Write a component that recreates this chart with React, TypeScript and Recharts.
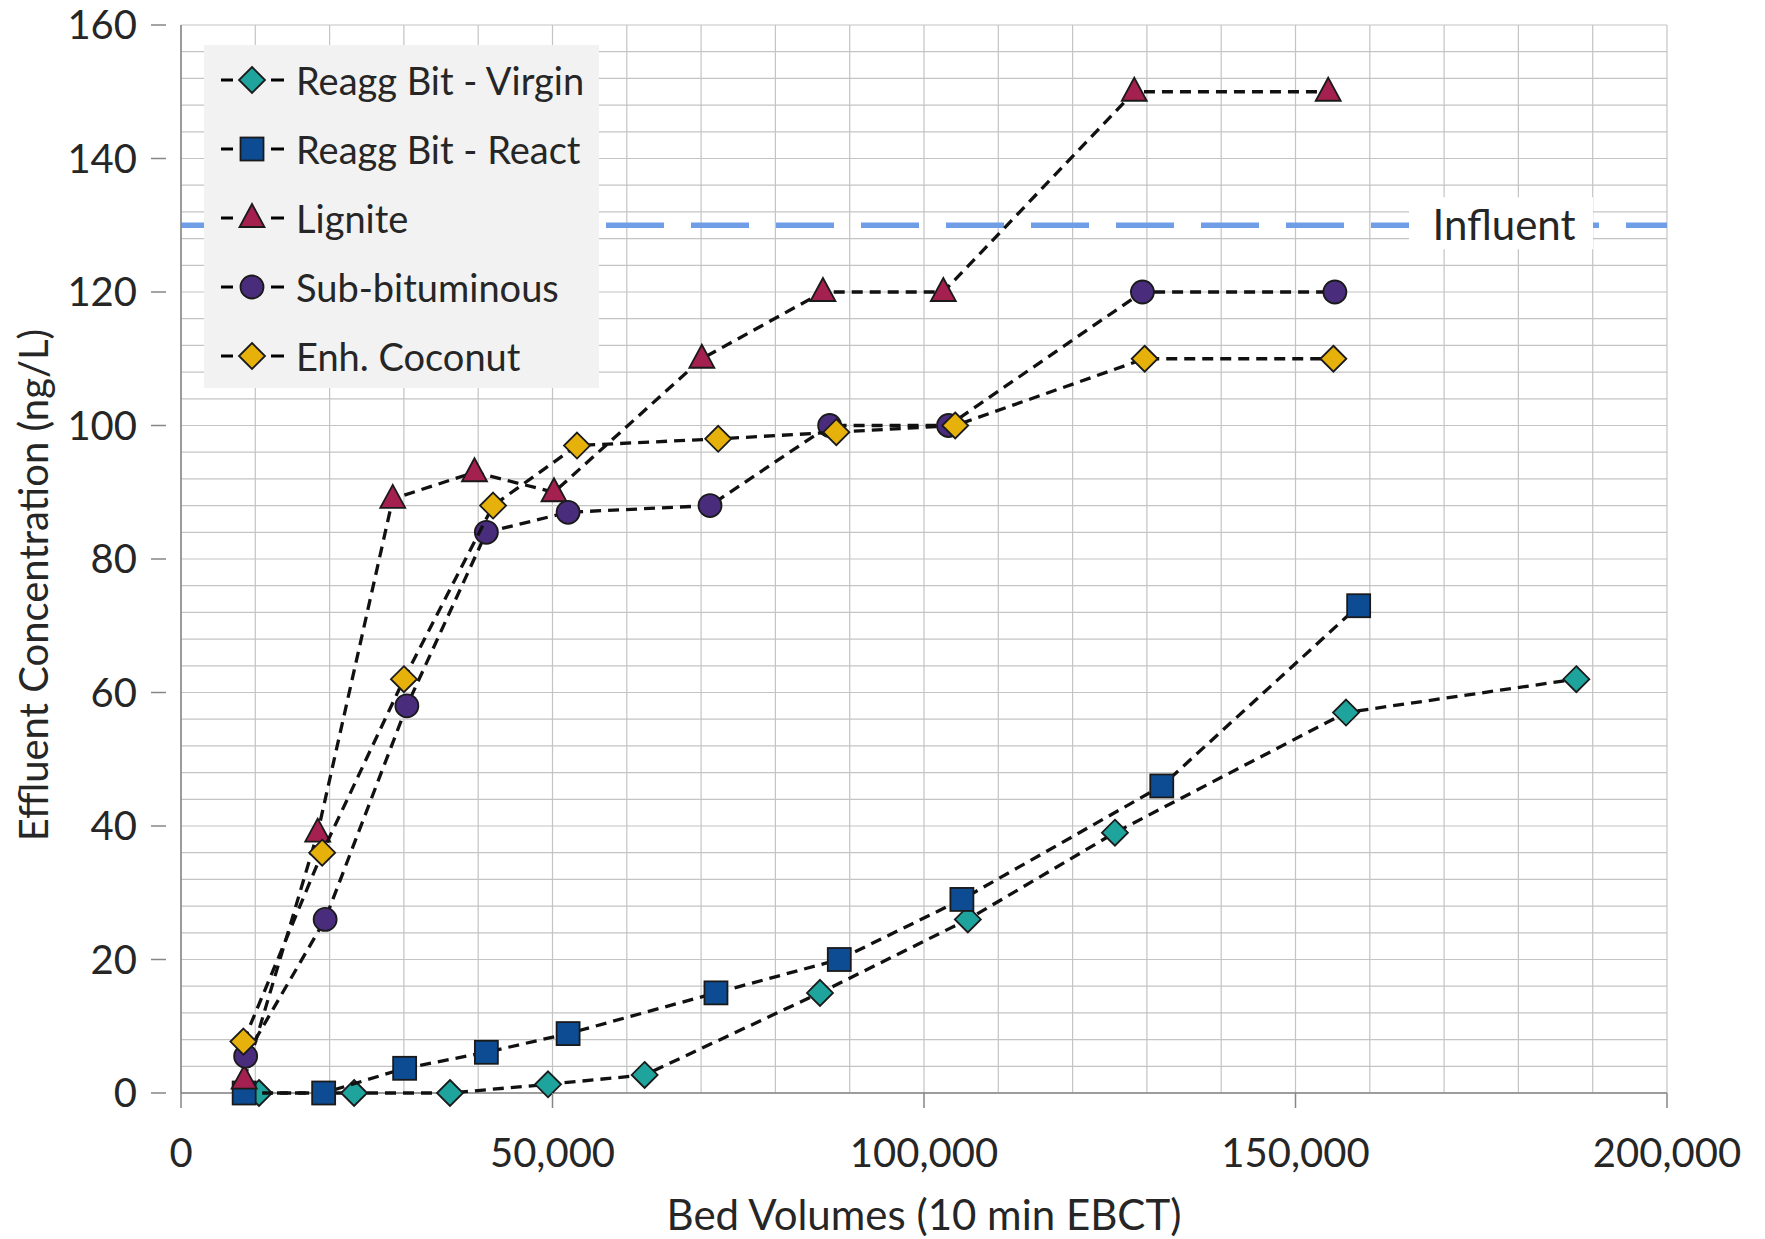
import { ScatterChart, Scatter, XAxis, YAxis, CartesianGrid, ReferenceLine } from 'recharts';

const xGridTicks = [0, 10000, 20000, 30000, 40000, 50000, 60000, 70000, 80000, 90000, 100000,
  110000, 120000, 130000, 140000, 150000, 160000, 170000, 180000, 190000, 200000];
const yGridTicks = [0, 4, 8, 12, 16, 20, 24, 28, 32, 36, 40, 44, 48, 52, 56, 60, 64, 68, 72, 76, 80,
  84, 88, 92, 96, 100, 104, 108, 112, 116, 120, 124, 128, 132, 136, 140, 144, 148, 152, 156, 160];

const virginX = [10500, 23300, 36200, 49400, 62400, 86000, 105900, 125700, 156800, 187800];
const virginY = [0, 0, 0, 1.3, 2.7, 15, 26, 39, 57, 62];
const reactX = [8500, 19200, 30100, 41100, 52100, 72000, 88600, 105100, 132000, 158500];
const reactY = [0, 0, 3.7, 6.1, 8.9, 15, 20, 29, 46, 73];
const ligniteX = [8500, 18400, 28500, 39500, 50200, 70100, 86400, 102600, 128300, 154400];
const ligniteY = [2, 39, 89, 93, 90, 110, 120, 120, 150, 150];
const subbitX = [8700, 19400, 30400, 41100, 52100, 71200, 87300, 103300, 129400, 155300];
const subbitY = [5.5, 26, 58, 84, 87, 88, 100, 100, 120, 120];
const coconutX = [8400, 19000, 30000, 42000, 53300, 72300, 88200, 104200, 129700, 155100];
const coconutY = [7.7, 36, 62, 88, 97, 98, 99, 100, 110, 110];

const influent = 130;

const FONT = "Lato, 'Open Sans', sans-serif";
const TEXT = '#262626';

const toPoints = (xs: number[], ys: number[]) => xs.map((x, i) => ({ x, y: ys[i] }));

type ShapeKind = 'diamond' | 'square' | 'triangle' | 'circle';

function Marker({ cx, cy, kind, fill }: { cx: number; cy: number; kind: ShapeKind; fill: string }) {
  const common = { fill, stroke: '#1a1a1a', strokeWidth: 1.8 };
  if (kind === 'diamond') {
    const r = 13;
    return <path d={`M${cx},${cy - r}L${cx + r},${cy}L${cx},${cy + r}L${cx - r},${cy}Z`} {...common} />;
  }
  if (kind === 'square') {
    const h = 11.5;
    return <rect x={cx - h} y={cy - h} width={h * 2} height={h * 2} {...common} />;
  }
  if (kind === 'triangle') {
    return <path d={`M${cx},${cy - 14}L${cx + 12.5},${cy + 9}L${cx - 12.5},${cy + 9}Z`} {...common} />;
  }
  return <circle cx={cx} cy={cy} r={11.5} {...common} />;
}

const series = [
  { name: 'Reagg Bit - Virgin', data: toPoints(virginX, virginY), color: '#1fa39d', kind: 'diamond' as ShapeKind },
  { name: 'Reagg Bit - React', data: toPoints(reactX, reactY), color: '#0d4c93', kind: 'square' as ShapeKind },
  { name: 'Lignite', data: toPoints(ligniteX, ligniteY), color: '#a3204f', kind: 'triangle' as ShapeKind },
  { name: 'Sub-bituminous', data: toPoints(subbitX, subbitY), color: '#4a2c7d', kind: 'circle' as ShapeKind },
  { name: 'Enh. Coconut', data: toPoints(coconutX, coconutY), color: '#e6b10b', kind: 'diamond' as ShapeKind },
];

const XTick = (props: any) => {
  const { x, y, payload } = props;
  if (payload.value % 50000 !== 0) return null;
  return (
    <g>
      <line x1={x} x2={x} y1={y - 46} y2={y - 31} stroke="#868686" strokeWidth={1.5} />
      <text x={x} y={y} dy="0.71em" textAnchor="middle" fontSize={40} fontFamily={FONT} fill={TEXT}>
        {payload.value.toLocaleString('en-US')}
      </text>
    </g>
  );
};

const YTick = (props: any) => {
  const { x, y, payload } = props;
  if (payload.value % 20 !== 0) return null;
  return (
    <g>
      <line x1={x + 14} x2={x + 29} y1={y} y2={y} stroke="#868686" strokeWidth={1.5} />
      <text x={x} y={y} dy="0.36em" textAnchor="end" fontSize={40} fontFamily={FONT} fill={TEXT}>
        {payload.value}
      </text>
    </g>
  );
};

const InfluentLabel = (props: any) => {
  const { viewBox } = props;
  const right = viewBox.x + viewBox.width;
  return (
    <g>
      <rect x={right - 258} y={viewBox.y - 28} width={184} height={52} fill="#fff" />
      <text x={right - 163} y={viewBox.y} dy="0.36em" textAnchor="middle" fontSize={42} fontFamily={FONT} fill={TEXT}>
        Influent
      </text>
    </g>
  );
};

function LegendBox() {
  return (
    <div
      style={{
        position: 'absolute',
        left: 204,
        top: 45,
        width: 395,
        height: 343,
        background: '#f2f2f2',
      }}
    >
      {series.map((s) => (
        <div key={s.name} style={{ display: 'flex', alignItems: 'center', height: 69 }}>
          <svg width={90} height={40} style={{ display: 'block' }}>
            <line x1={17} x2={29} y1={20} y2={20} stroke="#000" strokeWidth={3} />
            <line x1={67} x2={80} y1={20} y2={20} stroke="#000" strokeWidth={3} />
            <Marker cx={48} cy={20} kind={s.kind} fill={s.color} />
          </svg>
          <span style={{ fontFamily: FONT, fontSize: 38, color: TEXT, marginLeft: 2, lineHeight: 1 }}>{s.name}</span>
        </div>
      ))}
    </div>
  );
}

export default function App() {
  return (
    <div style={{ position: 'relative', width: 1765, height: 1239, background: '#fff' }}>
      <style>{'body{margin:0}'}</style>
      <ScatterChart width={1765} height={1239} margin={{ top: 25, right: 98, bottom: 0, left: 0 }}>
        <CartesianGrid stroke="#c4c4c4" strokeWidth={1.2} />
        <XAxis
          type="number"
          dataKey="x"
          domain={[0, 200000]}
          ticks={xGridTicks}
          interval={0}
          height={146}
          tickSize={15}
          tickMargin={31}
          tickLine={false}
          tick={<XTick />}
          axisLine={{ stroke: '#868686', strokeWidth: 1.5 }}
          label={{
            value: 'Bed Volumes (10 min EBCT)',
            position: 'insideBottom',
            offset: 9,
            style: { fontSize: 42, fontFamily: FONT, fill: TEXT },
          }}
        />
        <YAxis
          type="number"
          dataKey="y"
          domain={[0, 160]}
          ticks={yGridTicks}
          interval={0}
          width={181}
          tickSize={15}
          tickMargin={29}
          tickLine={false}
          tick={<YTick />}
          axisLine={{ stroke: '#868686', strokeWidth: 1.5 }}
          label={{
            value: 'Effluent Concentration (ng/L)',
            angle: -90,
            position: 'insideLeft',
            offset: 34,
            dy: 26,
            style: { fontSize: 40, fontFamily: FONT, fill: TEXT, textAnchor: 'middle' },
          }}
        />
        <ReferenceLine
          y={influent}
          stroke="#6f9de6"
          strokeWidth={5.5}
          strokeDasharray="58 27"
          label={<InfluentLabel />}
        />
        {series.map((s) => (
          <Scatter
            key={s.name}
            name={s.name}
            data={s.data}
            fill={s.color}
            isAnimationActive={false}
            line={{ stroke: '#111', strokeWidth: 3.3, strokeDasharray: '11 7' }}
            lineType="joint"
            shape={(p: any) => <Marker cx={p.cx} cy={p.cy} kind={s.kind} fill={s.color} />}
          />
        ))}
      </ScatterChart>
      <LegendBox />
    </div>
  );
}
